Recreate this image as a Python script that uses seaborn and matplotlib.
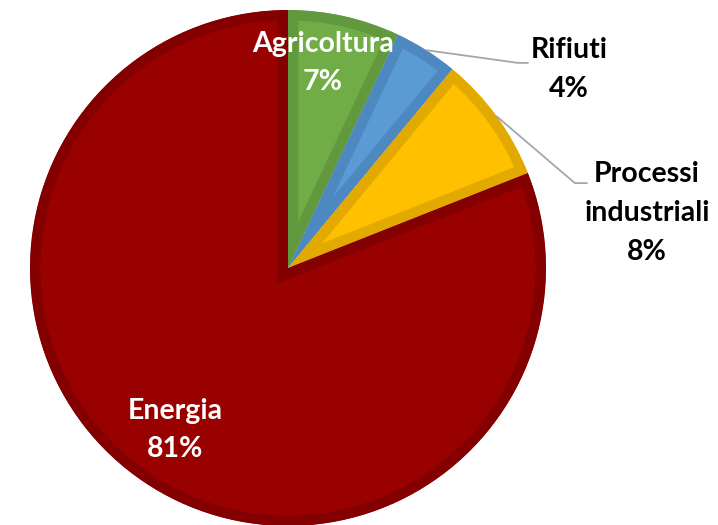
import numpy as np
import matplotlib
matplotlib.use('Agg')
import matplotlib.pyplot as plt
import seaborn as sns

# Emission shares by sector
sectors = ['Agricoltura', 'Rifiuti', 'Processi\nindustriali', 'Energia']
shares = [7, 4, 8, 81]
fill_colors = ['#70AD47', '#5B9BD5', '#FFC000', '#990000']
edge_colors = ['#62983E', '#4E88C0', '#E2AA00', '#840000']

sns.set_style('white')
plt.rcParams['font.family'] = ['Lato', 'DejaVu Sans']

fig = plt.figure(figsize=(7.18, 5.25), dpi=100)
ax = fig.add_axes([0, 0, 1, 1])

wedges, _ = ax.pie(shares, startangle=90, counterclock=False, radius=1,
                   colors=fill_colors, center=(0, 0))
for w, ec in zip(wedges, edge_colors):
    w.set_edgecolor(ec)
    w.set_linewidth(15)
    w.set_clip_on(True)
    w.set_clip_path(w)

ax.set_xlim(-288 / 258, (718 - 288) / 258)
ax.set_ylim((268 - 525) / 258, 268 / 258)
ax.set_aspect('auto')
ax.axis('off')

# labels
label_pos = [(0.136, 0.795), (1.09, 0.77), (1.391, 0.213), (-0.438, -0.628)]
label_colors = ['white', 'black', 'black', 'white']
for name, val, (x, y), c in zip(sectors, shares, label_pos, label_colors):
    ax.text(x, y, f'{name}\n{val}%', ha='center', va='center', color=c,
            fontsize=20.5, fontweight='bold', linespacing=1.6)

# leader lines for the outside labels
cum = np.cumsum([0] + shares)
leader_ends = {1: [(0.891, 0.795), (0.930, 0.795)],
               2: [(1.112, 0.329), (1.159, 0.329)]}
for i, pts in leader_ends.items():
    mid = np.deg2rad(90 - 3.6 * (cum[i] + shares[i] / 2))
    xs = [np.cos(mid)] + [p[0] for p in pts]
    ys = [np.sin(mid)] + [p[1] for p in pts]
    ax.plot(xs, ys, color='#A6A6A6', lw=1.3)

fig.savefig('out.png', dpi=100)
